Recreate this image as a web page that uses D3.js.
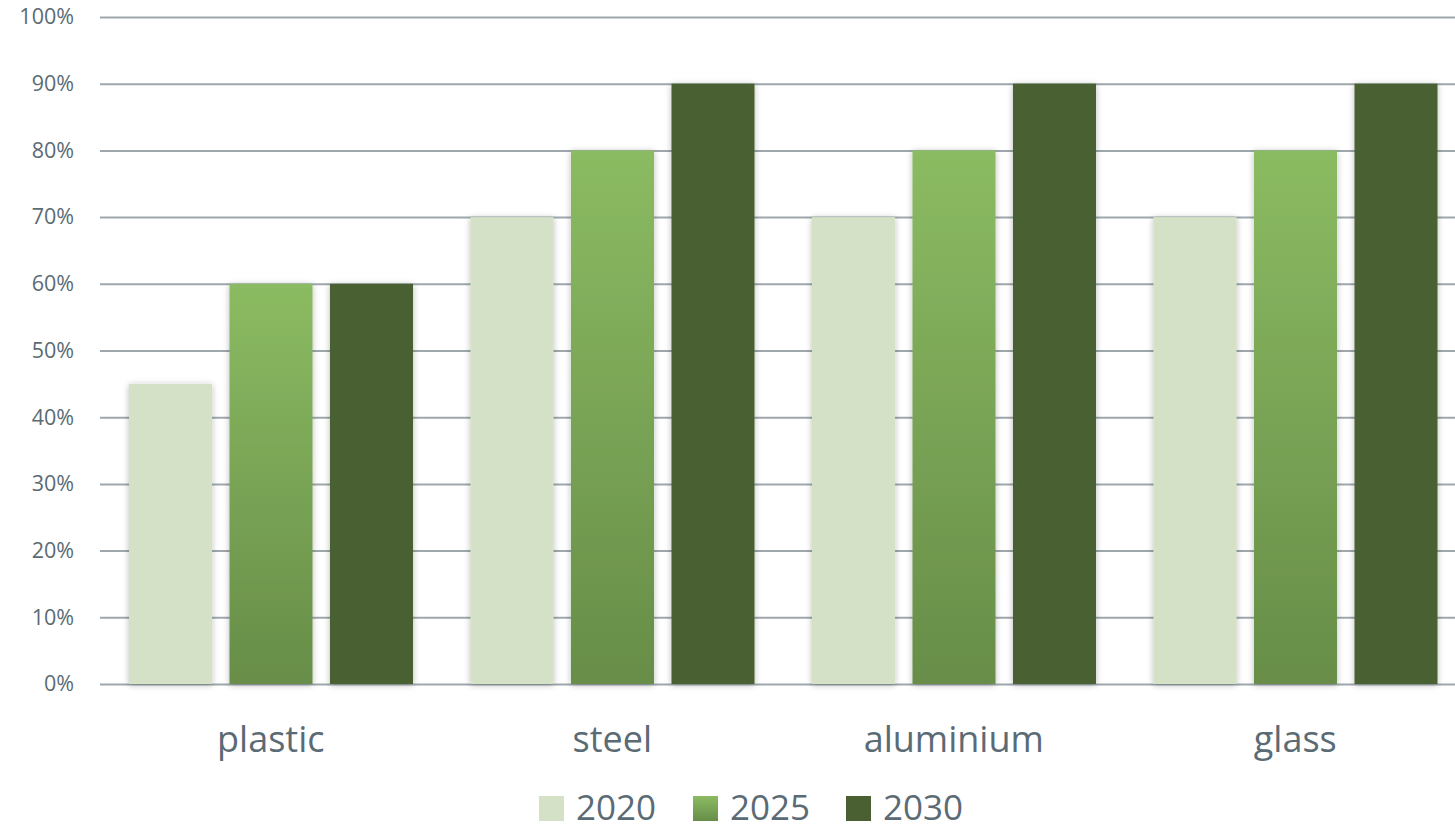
<!DOCTYPE html>
<html><head><meta charset="utf-8">
<script src="https://cdn.jsdelivr.net/npm/d3@7"></script>
<style>html,body{margin:0;padding:0;background:#fff;overflow:hidden}svg{display:block}</style>
</head><body>
<svg id="chart" width="1455" height="830"></svg>
<script>
const categories = ["plastic", "steel", "aluminium", "glass"];
const seriesNames = ["2020", "2025", "2030"];
const values2020 = [45, 70, 70, 70];
const values2025 = [60, 80, 80, 80];
const values2030 = [60, 90, 90, 90];
const yTicks = [0, 10, 20, 30, 40, 50, 60, 70, 80, 90, 100];

const seriesValues = [values2020, values2025, values2030];
const svg = d3.select("#chart");
const textColor = "#5a6b75";
const font = "'Open Sans', 'Noto Sans', sans-serif";

const defs = svg.append("defs");
const grad = defs.append("linearGradient").attr("id", "g2025").attr("x1", 0).attr("y1", 0).attr("x2", 0).attr("y2", 1);
grad.append("stop").attr("offset", "0%").attr("stop-color", "#8bbb62");
grad.append("stop").attr("offset", "100%").attr("stop-color", "#678d48");
const f = defs.append("filter").attr("id", "shadow").attr("x", "-20%").attr("y", "-5%").attr("width", "140%").attr("height", "110%");
f.append("feDropShadow").attr("dx", 0).attr("dy", 1).attr("stdDeviation", 3).attr("flood-color", "#000").attr("flood-opacity", 0.28);

const fills = ["#d4e1c7", "url(#g2025)", "#4a6033"];

const y = d3.scaleLinear().domain([0, 100]).range([684, 17]);
const x0 = d3.scaleBand().domain(categories).range([100, 1466]);
const x1 = d3.scaleBand().domain(seriesNames).range([29, 313]).paddingInner(0.174);

// gridlines
const yAxis = d3.axisLeft(y).tickValues(yTicks).tickSize(-1366).tickFormat(d => d + "%").tickPadding(26);
const gAxis = svg.append("g").attr("transform", "translate(100,0)").call(yAxis);
gAxis.select(".domain").remove();
gAxis.selectAll(".tick line").attr("stroke", "#9ea7ac").attr("stroke-width", 2);
gAxis.selectAll(".tick text").attr("fill", textColor).attr("font-family", font).attr("font-size", 21.5);

// bars
const groups = svg.append("g").selectAll("g").data(categories).join("g")
  .attr("transform", d => `translate(${x0(d)},0)`);
groups.selectAll("rect").data((c, i) => seriesNames.map((s, j) => ({s, j, v: seriesValues[j][i]})))
  .join("rect")
  .attr("x", d => x1(d.s))
  .attr("width", x1.bandwidth())
  .attr("y", d => y(d.v))
  .attr("height", d => y(0) - y(d.v))
  .attr("fill", d => fills[d.j])
  .attr("filter", "url(#shadow)");

// x axis labels
const xAxis = d3.axisBottom(x0).tickSize(0).tickPadding(0);
const gx = svg.append("g").attr("transform", "translate(0,684)").call(xAxis);
gx.select(".domain").remove();
gx.selectAll(".tick text").attr("fill", textColor).attr("font-family", font).attr("font-size", 36)
  .attr("dy", null).attr("y", 68);

// legend
const legendX = d3.scaleOrdinal().domain(seriesNames).range([539, 693, 846]);
const lg = svg.append("g").selectAll("g").data(seriesNames).join("g")
  .attr("transform", d => `translate(${legendX(d)},0)`);
lg.append("rect").attr("x", 0).attr("y", 796).attr("width", 25).attr("height", 25)
  .attr("fill", (d, i) => fills[i]);
lg.append("text").attr("x", 37).attr("y", 820).text(d => d)
  .attr("fill", textColor).attr("font-family", font).attr("font-size", 35);
</script>
</body></html>
